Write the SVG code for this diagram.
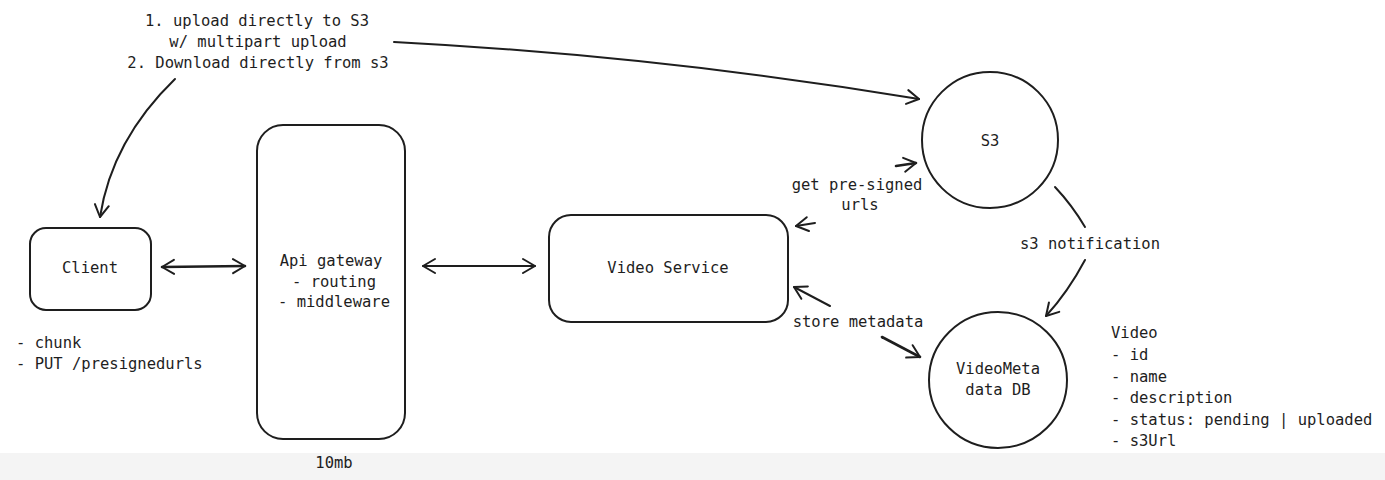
<svg xmlns="http://www.w3.org/2000/svg" width="1385" height="480" viewBox="0 0 1385 480">
<defs>
<style>
.shape{fill:none;stroke:#1e1e1e;stroke-width:2;stroke-linecap:round;stroke-linejoin:round}
.edge{fill:none;stroke:#1e1e1e;stroke-width:2;stroke-linecap:round}
.thick{stroke-width:2.6}
.t{font-family:"DejaVu Sans Mono","Liberation Mono",monospace;font-size:15.5px;fill:#1e1e1e}
.c{text-anchor:middle}
</style>
<marker id="ah" viewBox="-14 -9 16 18" refX="0" refY="0" markerWidth="16" markerHeight="18" markerUnits="userSpaceOnUse" orient="auto-start-reverse">
<path d="M -12 -7 L 0 0 L -12 7" fill="none" stroke="#1e1e1e" stroke-width="2" stroke-linecap="round" stroke-linejoin="round"/>
</marker>
</defs>
<rect x="0" y="0" width="1385" height="480" fill="#ffffff"/>
<rect x="0" y="453" width="1385" height="27" fill="#f4f4f4"/>

<g id="connectors">
<path class="edge" d="M 394 42 Q 660 56 919 99" marker-end="url(#ah)"/>
<path class="edge" d="M 175 79 Q 112 140 100 217" marker-end="url(#ah)"/>
<path class="edge thick" d="M 162 267 L 245 266" marker-start="url(#ah)" marker-end="url(#ah)"/>
<path class="edge" d="M 423 266 L 535 266" marker-start="url(#ah)" marker-end="url(#ah)"/>
<path class="edge thick" d="M 896 166 L 916 163" marker-end="url(#ah)"/>
<path class="edge" d="M 815 223 L 796 226" marker-end="url(#ah)"/>
<path class="edge" d="M 830 306 L 794 287" marker-end="url(#ah)"/>
<path class="edge thick" d="M 882 337 L 920 357" marker-end="url(#ah)"/>
<path class="edge" d="M 1055 187 Q 1072 205 1085 227"/>
<path class="edge" d="M 1085 260 Q 1068 292 1046 316" marker-end="url(#ah)"/>
</g>

<g id="label-top">
<text class="t c" x="257" y="26">1. upload directly to S3</text>
<text class="t c" x="258" y="47">w/ multipart upload</text>
<text class="t c" x="258" y="68">2. Download directly from s3</text>
</g>

<g id="client">
<rect class="shape" x="30" y="228" width="121" height="82" rx="16"/>
<text class="t c" x="90" y="273">Client</text>
</g>
<g id="client-notes">
<text class="t" x="16" y="348">- chunk</text>
<text class="t" x="16" y="369">- PUT /presignedurls</text>
</g>

<g id="api-gateway">
<rect class="shape" x="257" y="125" width="148" height="314" rx="26"/>
<text class="t c" x="331" y="266">Api gateway</text>
<text class="t c" x="334" y="287">- routing</text>
<text class="t c" x="334" y="307">- middleware</text>
</g>
<g id="api-note">
<text class="t c" x="334" y="468">10mb</text>
</g>

<g id="video-service">
<rect class="shape" x="549" y="215" width="239" height="107" rx="22"/>
<text class="t c" x="668" y="273">Video Service</text>
</g>

<g id="s3">
<circle class="shape" cx="990" cy="140" r="68"/>
<text class="t c" x="990" y="146">S3</text>
</g>

<g id="videometa-db">
<ellipse class="shape" cx="998" cy="380" rx="69" ry="68"/>
<text class="t c" x="998" y="374">VideoMeta</text>
<text class="t c" x="998" y="395">data DB</text>
</g>

<g id="edge-labels">
<text class="t c" x="857" y="190">get pre-signed</text>
<text class="t c" x="860" y="210">urls</text>
<text class="t c" x="858" y="327">store metadata</text>
<text class="t c" x="1090" y="249">s3 notification</text>
</g>

<g id="video-schema">
<text class="t" x="1111" y="338">Video</text>
<text class="t" x="1111" y="360">- id</text>
<text class="t" x="1111" y="382">- name</text>
<text class="t" x="1111" y="403">- description</text>
<text class="t" x="1111" y="425">- status: pending | uploaded</text>
<text class="t" x="1111" y="446">- s3Url</text>
</g>
</svg>
